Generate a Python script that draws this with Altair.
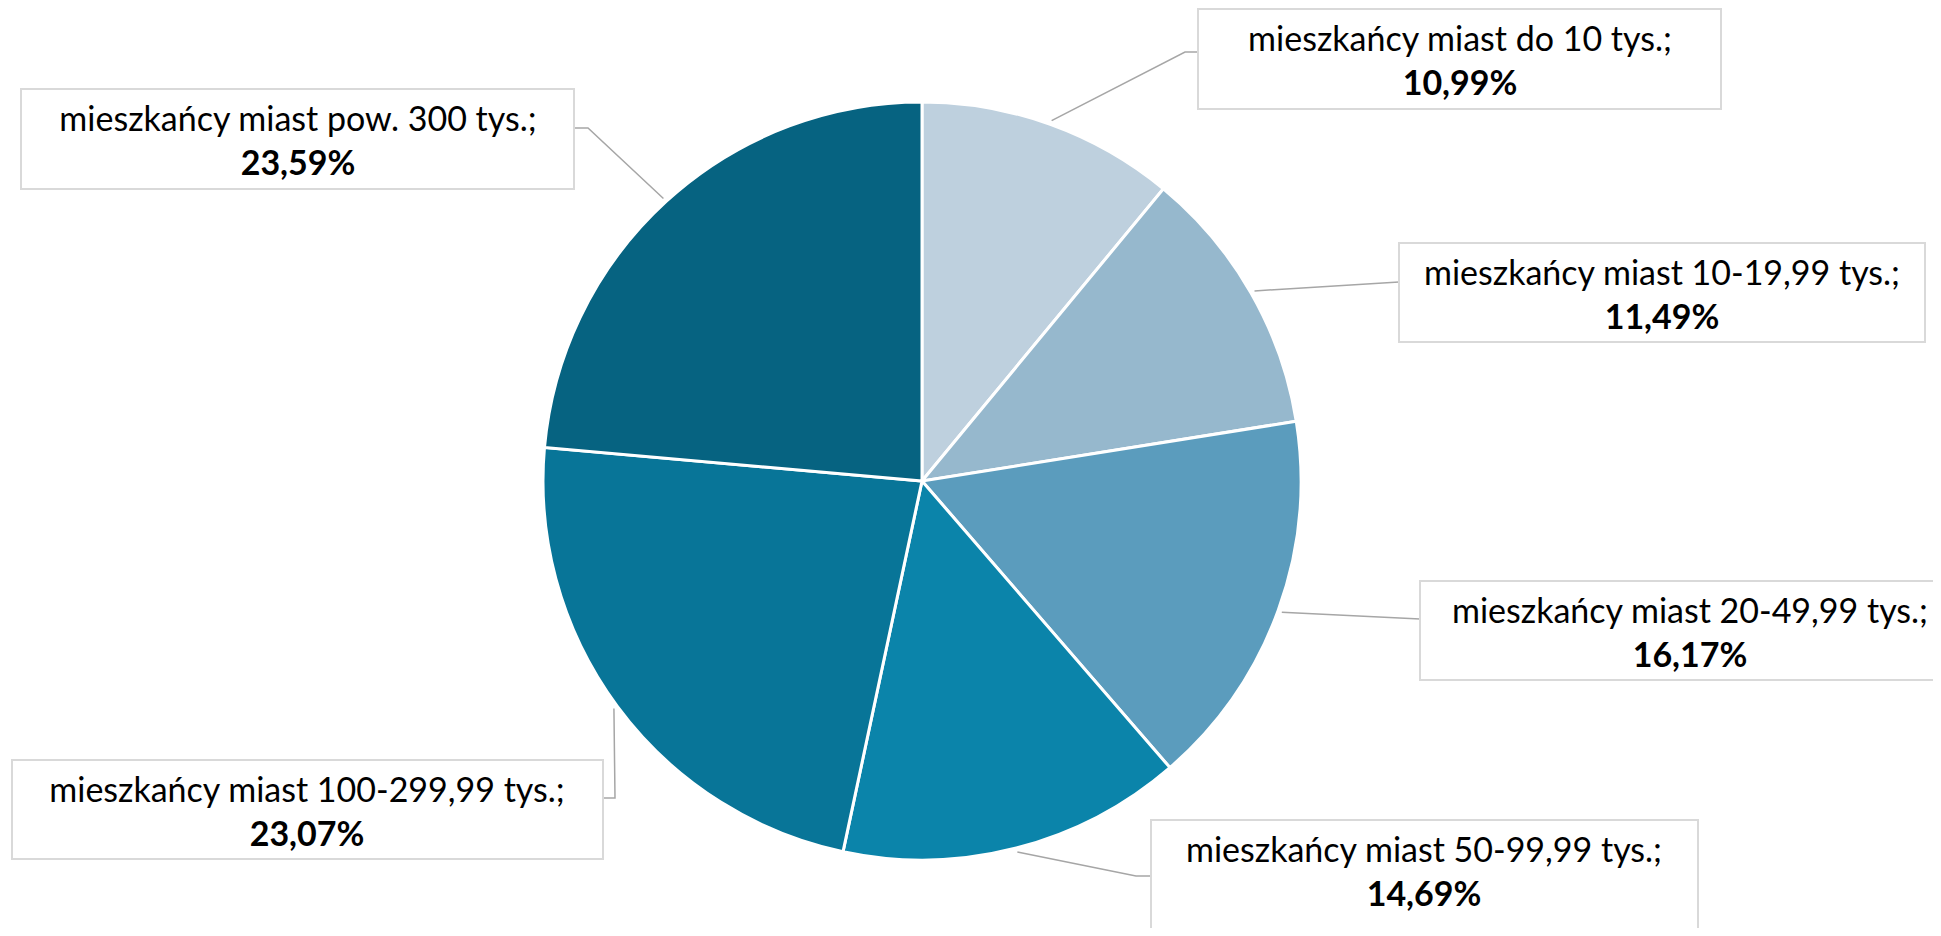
import math
import altair as alt
import pandas as pd

# ---- data ----
labels = [
    "mieszkańcy miast do 10 tys.;",
    "mieszkańcy miast 10-19,99 tys.;",
    "mieszkańcy miast 20-49,99 tys.;",
    "mieszkańcy miast 50-99,99 tys.;",
    "mieszkańcy miast 100-299,99 tys.;",
    "mieszkańcy miast pow. 300 tys.;",
]
values = [10.99, 11.49, 16.17, 14.69, 23.07, 23.59]
colors = ["#BED0DE", "#96B8CD", "#5B9CBD", "#0B84AA", "#087598", "#066381"]

# ---- layout (page pixel coordinates of the reference) ----
OFF = 8
W, H = 1925, 920
CX, CY, R = 922, 481, 379
boxes = [
    (1198, 9, 1721, 109),
    (1399, 243, 1925, 342),
    (1420, 581, 1990, 680),
    (1151, 820, 1698, 980),
    (12, 760, 603, 859),
    (21, 89, 574, 189),
]
# elbow points after the start on the pie edge
elbows = [
    [(1185, 52), (1198, 52)],
    [(1399, 282)],
    [(1420, 619)],
    [(1136, 876), (1151, 876)],
    [(615, 798), (603, 798)],
    [(588, 128), (574, 128)],
]
text_centers_x = [1460, 1662, 1690, 1424, 307, 298]

pct = [f"{v:.2f}".replace(".", ",") + "%" for v in values]

pie_df = pd.DataFrame({"label": labels, "value": values, "idx": list(range(len(labels)))})

box_rows, text_rows, line_rows = [], [], []
cum = 0.0
for i, (lab, v) in enumerate(zip(labels, values)):
    x1, y1, x2, y2 = boxes[i]
    box_rows.append({"x": x1 - OFF, "x2": x2 - OFF, "y": y1 - OFF, "y2": y2 - OFF})
    cxb = text_centers_x[i] - OFF
    text_rows.append({"x": cxb, "y1": y1 + 32 - OFF, "y2": y1 + 76 - OFF, "t1": lab, "t2": pct[i]})
    mid = (cum + v / 2) / 100 * 2 * math.pi
    cum += v
    sx = CX + (R + 4) * math.sin(mid)
    sy = CY - (R + 4) * math.cos(mid)
    pts = [(sx, sy)] + elbows[i]
    for k, (px, py) in enumerate(pts):
        line_rows.append({"g": i, "o": k, "x": px - OFF, "y": py - OFF})

box_df = pd.DataFrame(box_rows)
text_df = pd.DataFrame(text_rows)
line_df = pd.DataFrame(line_rows)

xs = alt.Scale(domain=[0, W], range=[0, W])
ys = alt.Scale(domain=[0, H], range=[0, H])
FONT = "Lato"
FS = 34

pie = alt.Chart(pie_df).mark_arc(radius=R, stroke="white", strokeWidth=3).encode(
    theta=alt.Theta("value:Q", stack=True),
    order=alt.Order("idx:Q"),
    color=alt.Color("label:N", scale=alt.Scale(domain=labels, range=colors), legend=None),
    x=alt.value(CX - OFF),
    y=alt.value(CY - OFF),
)

lines = alt.Chart(line_df).mark_line(color="#A6A6A6", strokeWidth=1.5).encode(
    x=alt.X("x:Q", scale=xs, axis=None),
    y=alt.Y("y:Q", scale=ys, axis=None),
    detail="g:N",
    order="o:Q",
)

rects = alt.Chart(box_df).mark_rect(fill="white", stroke="#D9D9D9", strokeWidth=2).encode(
    x=alt.X("x:Q", scale=xs, axis=None),
    x2="x2:Q",
    y=alt.Y("y:Q", scale=ys, axis=None),
    y2="y2:Q",
)

t1 = alt.Chart(text_df).mark_text(font=FONT, fontSize=FS, color="black", baseline="middle", align="center").encode(
    x=alt.X("x:Q", scale=xs, axis=None),
    y=alt.Y("y1:Q", scale=ys, axis=None),
    text="t1:N",
)
t2 = alt.Chart(text_df).mark_text(font=FONT, fontSize=FS, fontWeight="bold", color="black", baseline="middle", align="center").encode(
    x=alt.X("x:Q", scale=xs, axis=None),
    y=alt.Y("y2:Q", scale=ys, axis=None),
    text="t2:N",
)

chart = alt.layer(lines, pie, rects, t1, t2).properties(
    width=W, height=H, padding=0, autosize=alt.AutoSizeParams(type="none"), background="white"
).configure_view(stroke=None)

chart.save("out.html", embed_options={"renderer": "svg", "actions": False})
